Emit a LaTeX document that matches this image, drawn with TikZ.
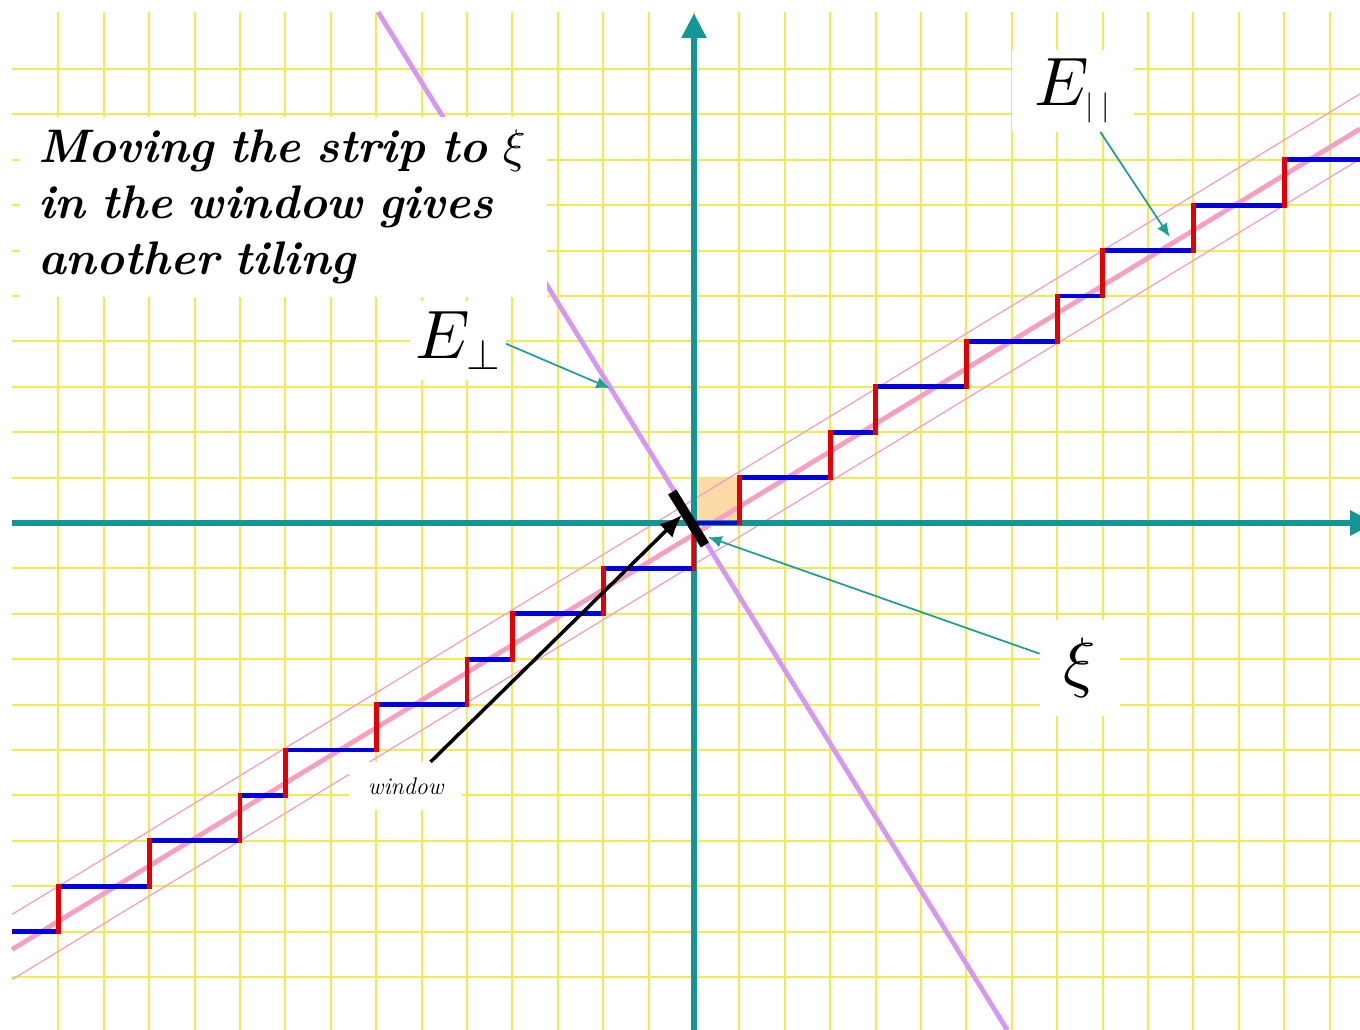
\documentclass[tikz,border=0pt]{standalone}
\usepackage{amsmath}
\usetikzlibrary{arrows.meta}

% math letters at large sizes
\DeclareFontShape{OML}{cmm}{m}{it}{<->cmmi10}{}
\DeclareFontShape{OMS}{cmsy}{m}{n}{<->cmsy10}{}

\definecolor{gridyellow}{RGB}{240,236,80}
\definecolor{axisteal}{RGB}{20,150,150}
\definecolor{arrowteal}{RGB}{30,160,150}
\definecolor{stepblue}{RGB}{0,0,225}
\definecolor{stepred}{RGB}{228,0,0}
\definecolor{strippink}{RGB}{245,160,195}
\definecolor{perpviolet}{RGB}{215,150,240}
\definecolor{squareorange}{RGB}{252,218,165}

\begin{document}
\begin{tikzpicture}[x=1cm,y=1cm,
    gridline/.style={gridyellow, line width=1.2pt},
    axisline/.style={axisteal, line width=3.6pt, -{Triangle[length=5.5mm,width=5.3mm]}},
    bluestep/.style={stepblue, line width=3pt},
    redstep/.style={stepred, line width=3pt, line cap=rect},
    stripthick/.style={strippink, line width=3pt},
    stripthin/.style={strippink, line width=0.8pt},
    perpline/.style={perpviolet, line width=3pt},
    lbl/.style={fill=white, inner sep=0pt},
    tealarrow/.style={arrowteal, line width=1.1pt, -{Latex[length=3mm,width=2.6mm]}},
    blackarrow/.style={black, line width=2.2pt, -{Latex[length=5mm,width=4.2mm]}}]

    \useasboundingbox (-15.286,-11.167) rectangle (14.670,11.520);

    % -----------------------------------------------------
    % 1) Cuadricula
    % -----------------------------------------------------
    \foreach \x in {-14,...,14}
        \draw[gridline] (\x,-11.167) -- (\x,11.256);
    \foreach \y in {-10,...,10}
        \draw[gridline] (-15.02,\y) -- (14.67,\y);

    % -----------------------------------------------------
    % 2) Celda unidad
    % -----------------------------------------------------
    \fill[squareorange] (0,0) rectangle (1,1);

    % -----------------------------------------------------
    % 3) Franja: E_par y sus bordes, y la recta E_perp
    % -----------------------------------------------------
    \draw[stripthin]  (-15.02,-8.621)  -- (14.67,9.452);
    \draw[stripthin]  (-15.02,-10.056) -- (14.67,8.017);
    \draw[stripthick] (-15.02,-9.393)  -- (14.67,8.680);
    \draw[perpline]   (-6.957,11.256)  -- (6.90,-11.167);

    % -----------------------------------------------------
    % 4) Ejes
    % -----------------------------------------------------
    \draw[axisline] (-15.02,0) -- (15.0,0);
    \draw[axisline] (0,-11.167) -- (0,11.23);

    % -----------------------------------------------------
    % 5) Escalera (tramos largos y cortos)
    % -----------------------------------------------------
    \foreach \xa/\xb/\y in {-15.02/-14/-9, -14/-12/-8, -12/-10/-7, -10/-9/-6,
        -9/-7/-5, -7/-5/-4, -5/-4/-3, -4/-2/-2, -2/0/-1, 0/1/0, 1/3/1, 3/4/2,
        4/6/3, 6/8/4, 8/9/5, 9/11/6, 11/13/7, 13/14.67/8}
        \draw[bluestep] (\xa,\y) -- (\xb,\y);
    \foreach \x/\y in {-14/-9, -12/-8, -10/-7, -9/-6, -7/-5, -5/-4, -4/-3,
        -2/-2, 0/-1, 1/0, 3/1, 4/2, 6/3, 8/4, 9/5, 11/6, 13/7}
        \draw[redstep] (\x,\y) -- (\x,\y+1);

    % -----------------------------------------------------
    % 6) Textos
    % -----------------------------------------------------
    \node[lbl, text width=10.8cm, inner xsep=0.405cm, minimum height=3.96cm,
        align=left, font=\fontsize{29.5}{35}\selectfont\bfseries\itshape]
        (movetext) at (-9.045,6.96)
        {Moving the strip to $\xi$\\ in the window gives\\ another tiling};
    \node[lbl, minimum width=2.7cm, minimum height=1.8cm,
        font=\fontsize{43}{43}\selectfont] (epar) at (8.35,9.52)
        {$E_{\hbox{\fontsize{19}{19}\selectfont$|\hspace{5pt}|$}}$};
    \node[lbl, minimum width=2.1cm, minimum height=1.75cm,
        font=\fontsize{43}{43}\selectfont] (eperp) at (-5.2,4.02)
        {$E_{\hbox{\fontsize{27}{27}\selectfont$\perp$}}$};
    \node[lbl, minimum width=1.76cm, minimum height=2.1cm,
        font=\fontsize{42}{42}\selectfont] (xilabel) at (8.5,-3.19) {$\xi$};
    \node[lbl, minimum width=2.5cm, minimum height=1.06cm,
        font=\fontsize{15}{18}\selectfont\itshape] (windowlabel) at (-6.35,-5.8) {window};

    % -----------------------------------------------------
    % 7) Ventana y flechas
    % -----------------------------------------------------
    \coordinate (winA) at (-0.48,0.683);
    \coordinate (winB) at (0.24,-0.483);
    \draw[black, line width=6pt] (winA) -- (winB);

    \coordinate (eparpt)   at (10.48,6.30);
    \coordinate (eperppt)  at (-1.85,2.97);
    \coordinate (xipt)     at (0.31,-0.31);
    \coordinate (windowpt) at (-0.26,0.18);

    \draw[tealarrow] (epar) -- (eparpt);
    \draw[tealarrow] ([yshift=-2pt]eperp.east) -- (eperppt);
    \draw[tealarrow] (xilabel) -- (xipt);
    \draw[blackarrow] (windowlabel) -- (windowpt);

\end{tikzpicture}
\end{document}
